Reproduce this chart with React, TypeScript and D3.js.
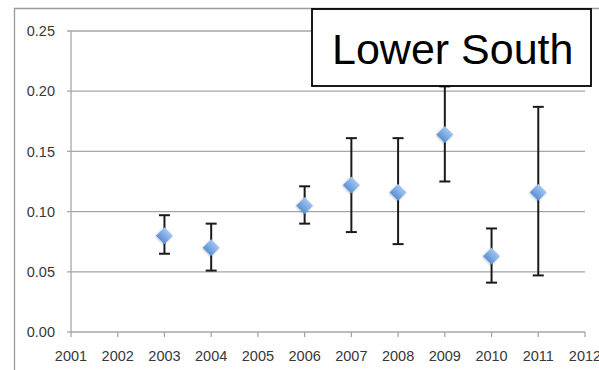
import React from "react";
import * as d3 from "d3";

// values
const years = [2003, 2004, 2006, 2007, 2008, 2009, 2010, 2011];
const means = [0.080, 0.070, 0.105, 0.122, 0.116, 0.164, 0.063, 0.116];
const lower = [0.065, 0.051, 0.090, 0.083, 0.073, 0.125, 0.041, 0.047];
const upper = [0.097, 0.090, 0.121, 0.161, 0.161, 0.204, 0.086, 0.187];

const xTickValues = [2001, 2002, 2003, 2004, 2005, 2006, 2007, 2008, 2009, 2010, 2011, 2012];
const yTickValues = [0, 0.05, 0.1, 0.15, 0.2, 0.25];
const title = "Lower South";

const W = 599;
const H = 370;

function App() {
  const x = d3.scaleLinear().domain([2001, 2012]).range([71, 585]);
  const y = d3.scaleLinear().domain([0, 0.25]).range([332, 31]);
  const fmt = d3.format(".2f");
  const diamond = d3.symbol(d3.symbolSquare, 145)();

  const pts = years.map((yr, i) => ({ yr, m: means[i], lo: lower[i], hi: upper[i] }));

  const axisColor = "#a6a6a6";
  const labelFont = "'Liberation Sans', Arial, sans-serif";

  return (
    <svg
      width={W}
      height={H}
      style={{ position: "absolute", left: 0, top: 0, background: "#fff" }}
    >
      <defs>
        <linearGradient id="mk" x1="0" y1="0" x2="0" y2="1">
          <stop offset="0%" stopColor="#a3c6f1" />
          <stop offset="100%" stopColor="#5a8fd6" />
        </linearGradient>
        <filter id="sh" x="-50%" y="-50%" width="200%" height="200%">
          <feDropShadow dx="0" dy="1" stdDeviation="1" floodColor="#000" floodOpacity="0.25" />
        </filter>
      </defs>

      {/* outer chart frame */}
      <path d={`M14.5,${H} V8.5 H${W}`} fill="none" stroke="#9a9a9a" strokeWidth={1.3} />

      {/* gridlines + y ticks */}
      {yTickValues.map((v) => (
        <g key={v}>
          <line
            x1={x(2001) - 4}
            x2={v === 0 ? x(2001) : x(2012)}
            y1={y(v)}
            y2={y(v)}
            stroke={axisColor}
            strokeWidth={1.3}
          />
          <text
            x={55}
            y={y(v)}
            dy="0.36em"
            textAnchor="end"
            fontFamily={labelFont}
            fontSize={14.5}
            fill="#383838"
          >
            {fmt(v)}
          </text>
        </g>
      ))}

      {/* axes */}
      <line x1={x(2001)} x2={x(2001)} y1={y(0.25)} y2={y(0)} stroke={axisColor} strokeWidth={1.3} />
      <line x1={x(2001)} x2={x(2012)} y1={y(0)} y2={y(0)} stroke={axisColor} strokeWidth={1.3} />
      {xTickValues.map((t) => (
        <g key={t}>
          <line x1={x(t)} x2={x(t)} y1={y(0)} y2={y(0) + 5} stroke={axisColor} strokeWidth={1.3} />
          <text
            x={x(t)}
            y={361}
            textAnchor="middle"
            fontFamily={labelFont}
            fontSize={14.5}
            fill="#383838"
          >
            {t}
          </text>
        </g>
      ))}

      {/* error bars */}
      {pts.map((d) => (
        <g key={"e" + d.yr} stroke="#1a1a1a" strokeWidth={2}>
          <line x1={x(d.yr)} x2={x(d.yr)} y1={y(d.lo)} y2={y(d.hi)} />
          <line x1={x(d.yr) - 5.5} x2={x(d.yr) + 5.5} y1={y(d.lo)} y2={y(d.lo)} />
          <line x1={x(d.yr) - 5.5} x2={x(d.yr) + 5.5} y1={y(d.hi)} y2={y(d.hi)} />
        </g>
      ))}

      {/* markers */}
      {pts.map((d) => (
        <path
          key={"m" + d.yr}
          d={diamond ?? ""}
          transform={`translate(${x(d.yr)},${y(d.m)}) rotate(45)`}
          fill="url(#mk)"
          filter="url(#sh)"
        />
      ))}

      {/* title box */}
      <rect x={312} y={9} width={279} height={77} fill="#fff" stroke="#000" strokeWidth={1.8} />
      <text
        x={332}
        y={64}
        fontFamily={labelFont}
        fontSize={43}
        fill="#000"
      >
        {title}
      </text>
    </svg>
  );
}

export default App;
